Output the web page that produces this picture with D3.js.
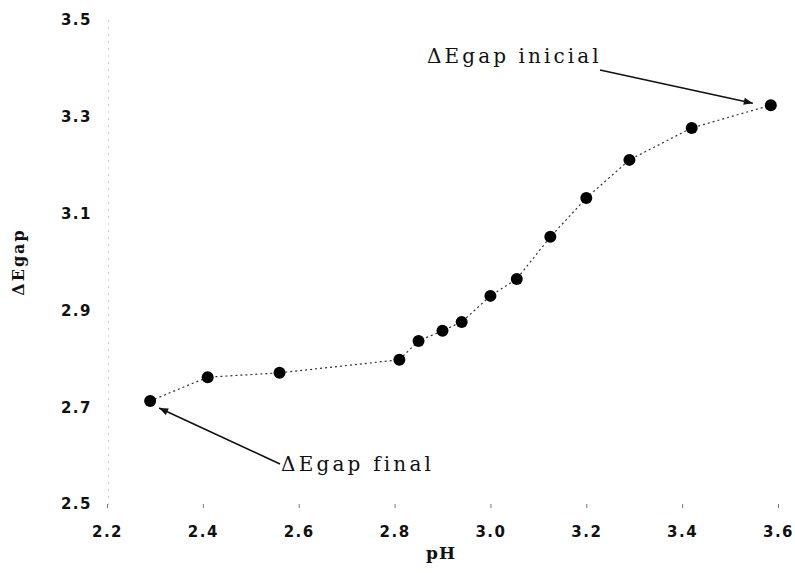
<!DOCTYPE html>
<html>
<head>
<meta charset="utf-8">
<script src="https://cdn.jsdelivr.net/npm/d3@7"></script>
<style>
  html, body { margin: 0; padding: 0; background: #fff; }
  svg { display: block; }
</style>
</head>
<body>
<svg id="chart" width="795" height="573"></svg>
<script>
// pH vs band-gap measurements
const phValues  = [2.29, 2.41, 2.56, 2.81, 2.85, 2.90, 2.94, 3.00, 3.055, 3.125, 3.20, 3.29, 3.42, 3.585];
const egapValues = [2.713, 2.762, 2.771, 2.798, 2.837, 2.858, 2.876, 2.930, 2.965, 3.052, 3.132, 3.211, 3.277, 3.324];

const xTicks = [2.2, 2.4, 2.6, 2.8, 3.0, 3.2, 3.4, 3.6];
const yTicks = [2.5, 2.7, 2.9, 3.1, 3.3, 3.5];

const xTitle = "pH";
const yTitle = "ΔEgap";
const noteStart = "ΔEgap inicial";
const noteEnd = "ΔEgap final";

const svg = d3.select("#chart");
const x = d3.scaleLinear().domain([2.2, 3.6]).range([107, 778]);
const y = d3.scaleLinear().domain([2.5, 3.5]).range([504, 20]);

const tickFont = "'DejaVu Sans', sans-serif";
const serif = "'DejaVu Serif', serif";

// arrowhead
svg.append("defs").append("marker")
  .attr("id", "arrow")
  .attr("viewBox", "0 0 10 10")
  .attr("refX", 10).attr("refY", 5)
  .attr("markerWidth", 10).attr("markerHeight", 9)
  .attr("markerUnits", "userSpaceOnUse")
  .attr("orient", "auto")
  .append("path").attr("d", "M0,1 L10,5 L0,9 Z").attr("fill", "#111");

// left axis (faint dotted rule)
const yAxis = d3.axisLeft(y).tickValues(yTicks).tickSize(0).tickPadding(16)
  .tickFormat(d3.format(".1f"));
const gy = svg.append("g").attr("transform", `translate(${x(2.2) + 1},0)`).call(yAxis);
gy.select(".domain").attr("stroke", "#999").attr("stroke-width", 1)
  .attr("stroke-dasharray", "1,6");
gy.selectAll("text").attr("font-family", tickFont).attr("font-weight", "bold")
  .attr("font-size", 15).attr("letter-spacing", 1.5).attr("fill", "#111");

// bottom axis: small tick marks only
const xAxis = d3.axisBottom(x).tickValues(xTicks).tickSize(4).tickPadding(18)
  .tickFormat(d3.format(".1f"));
const gx = svg.append("g").attr("transform", `translate(0,${y(2.5)})`).call(xAxis);
gx.select(".domain").attr("stroke", "none");
gx.selectAll(".tick line").attr("stroke", "#777").attr("stroke-width", 1);
gx.selectAll("text").attr("font-family", tickFont).attr("font-weight", "bold")
  .attr("font-size", 15).attr("letter-spacing", 1.5).attr("fill", "#111");

// axis titles
svg.append("text").attr("x", 441).attr("y", 559).attr("text-anchor", "middle")
  .attr("font-family", serif).attr("font-weight", "bold").attr("font-size", 17)
  .attr("letter-spacing", 1).attr("fill", "#111").text(xTitle);
svg.append("text").attr("transform", "translate(24,262) rotate(-90)")
  .attr("text-anchor", "middle")
  .attr("font-family", serif).attr("font-weight", "bold").attr("font-size", 16)
  .attr("letter-spacing", 2).attr("fill", "#111").text(yTitle);

// connecting line
const pts = phValues.map((v, i) => [v, egapValues[i]]);
svg.append("path").datum(pts)
  .attr("fill", "none").attr("stroke", "#333").attr("stroke-width", 1.2)
  .attr("stroke-dasharray", "2,3")
  .attr("d", d3.line().x(d => x(d[0])).y(d => y(d[1])));

// markers
svg.append("g").selectAll("circle").data(pts).join("circle")
  .attr("cx", d => x(d[0])).attr("cy", d => y(d[1])).attr("r", 6)
  .attr("fill", "#000");

// annotations
const first = pts[pts.length - 1];
const last = pts[0];

svg.append("text").attr("x", 427).attr("y", 63)
  .attr("font-family", serif).attr("font-size", 20).attr("letter-spacing", 3.1)
  .attr("fill", "#111").text(noteStart);
svg.append("line")
  .attr("x1", 600).attr("y1", 70)
  .attr("x2", x(first[0]) - 18).attr("y2", y(first[1]) - 2)
  .attr("stroke", "#111").attr("stroke-width", 1.6).attr("marker-end", "url(#arrow)");

svg.append("text").attr("x", 281).attr("y", 471)
  .attr("font-family", serif).attr("font-size", 20).attr("letter-spacing", 3.2)
  .attr("fill", "#111").text(noteEnd);
svg.append("line")
  .attr("x1", 280).attr("y1", 464)
  .attr("x2", x(last[0]) + 9).attr("y2", y(last[1]) + 7)
  .attr("stroke", "#111").attr("stroke-width", 1.6).attr("marker-end", "url(#arrow)");
</script>
</body>
</html>
